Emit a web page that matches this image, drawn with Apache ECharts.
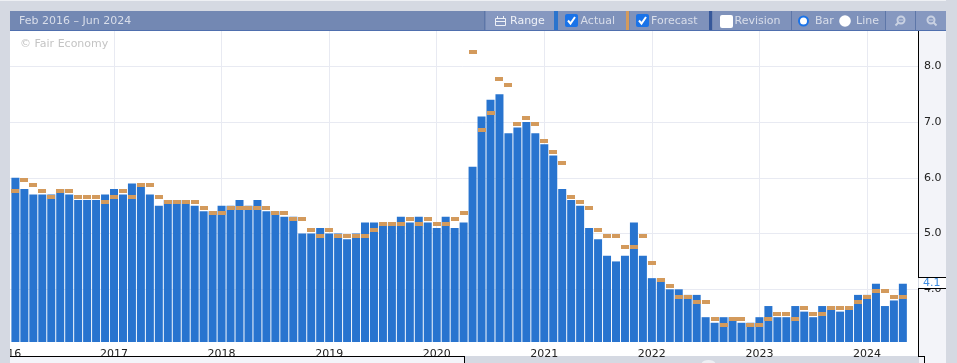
<!DOCTYPE html>
<html>
<head>
<meta charset="utf-8">
<style>html,body{margin:0;padding:0;background:#d5d9e2;overflow:hidden}#c{width:957px;height:363px}</style>
<script src="https://cdn.jsdelivr.net/npm/echarts@6/dist/echarts.min.js"></script>
</head>
<body>
<div id="c"></div>
<script>
// Monthly values, Feb 2016 onward
const actual = [
6.0,5.8,5.7,5.7,5.7,5.8,5.7,5.6,5.6,5.6,5.7,
5.8,5.7,5.9,5.9,5.7,5.5,5.6,5.6,5.6,5.5,5.4,5.4,
5.5,5.5,5.6,5.5,5.6,5.4,5.4,5.3,5.3,5.0,5.0,5.1,
5.0,5.0,4.9,5.0,5.2,5.2,5.2,5.2,5.3,5.2,5.3,5.2,
5.1,5.3,5.1,5.2,6.2,7.1,7.4,7.5,6.8,6.9,7.0,6.8,
6.6,6.4,5.8,5.6,5.5,5.1,4.9,4.6,4.5,4.6,5.2,4.6,
4.2,4.2,4.0,4.0,3.9,3.9,3.5,3.4,3.5,3.5,3.4,3.4,
3.5,3.7,3.5,3.5,3.7,3.6,3.5,3.7,3.7,3.6,3.7,3.9,
3.9,4.1,3.7,3.8,4.1];
const forecast = [
5.8,6.0,5.9,5.8,5.7,5.8,5.8,5.7,5.7,5.7,5.6,
5.7,5.8,5.7,5.9,5.9,5.7,5.6,5.6,5.6,5.6,5.5,5.4,
5.4,5.5,5.5,5.5,5.5,5.5,5.4,5.4,5.3,5.3,5.1,5.0,
5.1,5.0,5.0,5.0,5.0,5.1,5.2,5.2,5.2,5.3,5.2,5.3,
5.2,5.2,5.3,5.4,8.3,6.9,7.2,7.8,7.7,7.0,7.1,7.0,
6.7,6.5,6.3,5.7,5.6,5.5,5.1,5.0,5.0,4.8,4.8,5.0,
4.5,4.2,4.1,3.9,3.9,3.8,3.8,3.5,3.4,3.5,3.5,3.4,
3.4,3.5,3.6,3.6,3.5,3.7,3.6,3.6,3.7,3.7,3.7,3.8,
3.9,4.0,4.0,3.9,3.9];
const yearTickIndex = [-0.9,11,23,35,47,59,71,83,95];
const yearTickLabels = ['2016','2017','2018','2019','2020','2021','2022','2023','2024'];
const yTicks = [4,5,6,7,8];
const latestLabel = '4.1';
const rangeLabel = 'Feb 2016 \u2013 Jun 2024';

const FONT = '"DejaVu Sans", Verdana, sans-serif';
const GREY = '#d5d9e2', PANEL = '#f3f4f9', HEAD = '#7388b3', LIGHT = '#7f92bb', LIGHTER = '#8698c0';
const TXT = '#d9deea';
const rect = (x, y, w, h, fill, z) => ({type:'rect', shape:{x, y, width:w, height:h}, style:{fill}, z, silent:true});
const line = (x1, y1, x2, y2, stroke, z, lineWidth) => ({type:'line', shape:{x1, y1, x2, y2}, style:{stroke, lineWidth:lineWidth||1}, z, silent:true});
const text = (x, y, t, fill, z) => ({type:'text', x, y, style:{text:t, fill, font:'11px '+FONT, textVerticalAlign:'middle'}, z, silent:true});
const check = (x, y) => ({type:'polyline', shape:{points:[[x+3,y+6.5],[x+5.5,y+9.5],[x+10,y+3]]}, style:{stroke:'#fff', lineWidth:2, fill:null}, z:102, silent:true});
const box = (x, y, fill) => ({type:'rect', shape:{x, y, width:13, height:13, r:2}, style:{fill}, z:101, silent:true});
const lens = (cx, cy, z) => [
  {type:'circle', shape:{cx, cy, r:3.5}, style:{fill:'none', stroke:'#c9d1e2', lineWidth:2}, z:101, silent:true},
  line(cx + (z ? -2.5 : 2.5), cy + 2.5, cx + (z ? -5.5 : 5.5), cy + 5.5, '#c9d1e2', 101, 2),
  line(cx - 2, cy, cx + 2, cy, '#c9d1e2', 101, 1)
];

const back = [
  rect(0,0,957,1,'#eef0f4',-10),
  rect(10,31,908,325,'#ffffff',-10),
  rect(919,31,27,332,PANEL,-10),
  rect(10,357,454,6,PANEL,-10),
  {type:'ellipse', shape:{cx:708.5, cy:364, rx:7, ry:4}, style:{fill:'#eef0f4'}, z:-9, silent:true}
];
const front = [
  rect(0,0,10,363,GREY,100),
  rect(0,0,957,1,'#eef0f4',100),
  rect(10,11,936,19,HEAD,100),
  rect(10,30,936,1,'#4f6fae',100),
  rect(486,11,68,19,LIGHTER,100),
  rect(558,11,68,19,LIGHT,100),
  rect(630,11,79,19,LIGHT,100),
  rect(713,11,78,19,LIGHT,100),
  rect(792,11,93,19,LIGHT,100),
  rect(886,11,29,19,LIGHTER,100),
  rect(916,11,30,19,LIGHTER,100),
  line(484.5,11,484.5,30,'#5d76a8',101),
  line(791.5,11,791.5,30,'#5d76a8',101),
  line(885.5,11,885.5,30,'#5d76a8',101),
  line(915.5,11,915.5,30,'#5d76a8',101),
  rect(554,11,4,19,'#2a74cd',101),
  rect(626,11,3,19,'#d39a5c',101),
  rect(709,11,3,19,'#36589a',101),
  text(19,21,rangeLabel,TXT,102),
  text(510,21,'Range','#eef1f7',102),
  text(580.5,21,'Actual',TXT,102),
  text(651,21,'Forecast',TXT,102),
  text(734.5,21,'Revision',TXT,102),
  text(815,21,'Bar',TXT,102),
  text(856,21,'Line',TXT,102),
  text(20,44,'\u00a9 Fair Economy','#c4c4c4',102),
  // calendar icon
  {type:'rect', shape:{x:495.5,y:18.5,width:10,height:7}, style:{fill:'none',stroke:'#eef1f7',lineWidth:1}, z:101, silent:true},
  line(495.5,21.5,505.5,21.5,'#eef1f7',101),
  line(497.5,16,497.5,19,'#eef1f7',101),
  line(503.5,16,503.5,19,'#eef1f7',101),
  box(565,14,'#1a73e8'), check(565,14),
  box(636,14,'#1a73e8'), check(636,14),
  box(720,15,'#ffffff'),
  {type:'circle', shape:{cx:803.5,cy:21,r:4.5}, style:{fill:'#fff',stroke:'#1a73e8',lineWidth:2}, z:101, silent:true},
  {type:'circle', shape:{cx:845,cy:21,r:5.8}, style:{fill:'#fff'}, z:101, silent:true},
  ...lens(901,20,true),
  ...lens(931,20,false),
  // value axis frame and latest-value box
  line(918.5,31,918.5,277,'#000',100),
  rect(919,278,27,10,'#ffffff',100),
  line(918,277.5,946,277.5,'#000',101),
  line(918,288.5,946,288.5,'#000',101),
  line(918.5,288,918.5,357,'#000',101),
  line(10,356.5,464,356.5,'#000',101),
  line(464.5,356,464.5,363,'#000',101),
  line(918,356.5,924,356.5,'#000',101),
  line(924.5,356,924.5,363,'#000',101),
  text(923,283.5,latestLabel,'#3d8be0',102),
  rect(946,0,11,363,GREY,100)
];

const chart = echarts.init(document.getElementById('c'), null, {renderer:'canvas'});
chart.setOption({
  animation:false,
  backgroundColor:GREY,
  grid:{left:6.44, right:39, top:31, bottom:21, containLabel:false, outerBoundsMode:'none'},
  xAxis:{
    type:'value', min:-1, max:100.69,
    axisLine:{show:false}, axisTick:{show:false, customValues:yearTickIndex},
    splitLine:{show:true, lineStyle:{color:'#e8eaf2', width:1}},
    axisLabel:{
      customValues:yearTickIndex, margin:7, hideOverlap:false, showMinLabel:true,
      color:'#222', fontFamily:FONT, fontSize:11,
      formatter:v => yearTickLabels[yearTickIndex.indexOf(v)] || ''
    }
  },
  yAxis:{
    type:'value', position:'right', min:3.055, max:8.633,
    axisLine:{show:false}, axisTick:{show:false, customValues:yTicks},
    splitLine:{show:true, lineStyle:{color:'#e8eaf2', width:1}},
    axisLabel:{customValues:yTicks, margin:6, color:'#222', fontFamily:FONT, fontSize:11, formatter:v => v.toFixed(1)}
  },
  graphic:{elements:[...back, ...front]},
  series:[
    {type:'bar', data:actual.map((v,i)=>[i,v]), barWidth:8, itemStyle:{color:'#2874cf'}, silent:true, z:2},
    {type:'custom', data:forecast.map((v,i)=>[i,v]), silent:true, z:3, clip:false,
     encode:{x:0, y:1},
     renderItem:(params, api) => {
       const p = api.coord([api.value(0), api.value(1)]);
       return {type:'rect', shape:{x:Math.round(p[0]-4), y:Math.round(p[1]), width:8, height:4}, style:{fill:'#d39a5c'}};
     }}
  ]
});
</script>
</body>
</html>
